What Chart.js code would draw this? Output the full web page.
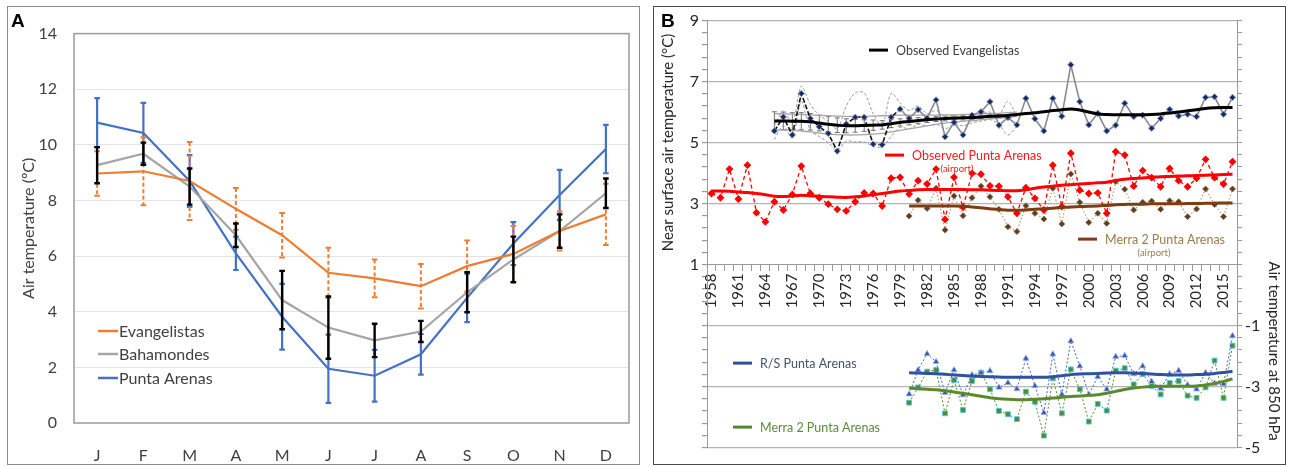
<!DOCTYPE html>
<html>
<head>
<meta charset="utf-8">
<title>Air temperature – Magallanes stations</title>
<script src="https://cdn.jsdelivr.net/npm/chart.js@4.4.1/dist/chart.umd.min.js"></script>
<style>
  html, body { margin: 0; padding: 0; background: #fff; }
  body { position: relative; width: 1290px; height: 467px; overflow: hidden; }
  .frame { position: absolute; box-sizing: border-box; }
  #frameA { left: 7px; top: 6px; width: 633px; height: 459px; border: 1.5px solid #8c8c8c; }
  #frameB { left: 653px; top: 6px; width: 633px; height: 459px; border: 1.5px solid #4a4a4a; }
  canvas { position: absolute; }
  #chartA { left: 8px; top: 7px; }
  #chartB { left: 655px; top: 8px; }
</style>
</head>
<body>
<div class="frame" id="frameA"></div>
<div class="frame" id="frameB"></div>
<canvas id="chartA" width="631" height="457"></canvas>
<canvas id="chartB" width="630" height="456"></canvas>
<script>
const FONT = 'Lato, "Open Sans", sans-serif';

// ---------- Panel A: monthly means with standard deviations ----------
const months = ['J', 'F', 'M', 'A', 'M', 'J', 'J', 'A', 'S', 'O', 'N', 'D'];
const evangelistasMean = [8.97, 9.05, 8.7, 7.7, 6.75, 5.4, 5.2, 4.92, 5.64, 6.08, 6.9, 7.5];
const evangelistasSd   = [0.8, 1.22, 1.4, 0.75, 0.8, 0.9, 0.68, 0.8, 0.92, 1.0, 0.7, 1.1];
const bahamondesMean   = [9.27, 9.68, 8.5, 6.75, 4.42, 3.43, 2.97, 3.29, 4.7, 5.88, 6.9, 8.26];
const bahamondesSd     = [0.65, 0.4, 0.65, 0.42, 1.05, 1.12, 0.6, 0.38, 0.72, 0.82, 0.6, 0.53];
const puntaArenasMean  = [10.8, 10.43, 8.7, 6.1, 3.82, 1.95, 1.7, 2.47, 4.5, 6.45, 8.2, 9.85];
const puntaArenasSd    = [0.88, 1.08, 0.93, 0.6, 1.18, 1.23, 0.93, 0.73, 0.87, 0.77, 0.9, 0.87];
const monthlyTicks = [0, 2, 4, 6, 8, 10, 12, 14];

// ---------- Panel B: annual series ----------
const years = [];
for (let yr = 1958; yr <= 2016; yr++) years.push(String(yr));
const yearTickLabels = ['1958', '1961', '1964', '1967', '1970', '1973', '1976', '1979', '1982', '1985',
  '1988', '1991', '1994', '1997', '2000', '2003', '2006', '2009', '2012', '2015'];
const surfaceTickLabels = [1, 3, 5, 7, 9];
const upperAirTickLabels = [-1, -3, -5];

// Observed Evangelistas, 1965-2016
const evAnnual = [5.38, 5.84, 5.25, 6.61, 5.79, 5.52, 5.30, 4.72, 5.61, 5.83,
  5.83, 4.95, 4.93, 5.83, 6.10, 5.79, 6.08, 5.80, 6.40, 5.19,
  5.66, 5.25, 5.90, 6.01, 6.34, 5.57, 5.82, 5.58, 6.45, 5.78,
  5.38, 6.45, 5.86, 7.55, 6.34, 5.58, 5.96, 5.38, 5.57, 6.29,
  5.85, 5.90, 5.47, 5.79, 6.09, 5.87, 5.93, 5.85, 6.48, 6.50,
  5.93, 6.48];
const evTrend = [5.71, 5.71, 5.70, 5.70, 5.68, 5.64, 5.60, 5.57, 5.55, 5.55,
  5.56, 5.57, 5.58, 5.62, 5.66, 5.69, 5.72, 5.75, 5.77, 5.79,
  5.80, 5.81, 5.82, 5.84, 5.86, 5.87, 5.89, 5.92, 5.95, 5.98,
  6.01, 6.05, 6.08, 6.10, 6.07, 6.00, 5.94, 5.92, 5.91, 5.91,
  5.91, 5.91, 5.92, 5.94, 5.97, 6.00, 6.04, 6.08, 6.12, 6.14,
  6.15, 6.15];
// uncertainty of the Evangelistas trend, 1965-1990
const evTrendErr = [0.30, 0.29, 0.28, 0.28, 0.27, 0.26, 0.25, 0.24, 0.23, 0.21,
  0.19, 0.17, 0.14, 0.13, 0.12, 0.11, 0.10, 0.09, 0.08, 0.08,
  0.07, 0.07, 0.06, 0.06, 0.05, 0.05];
// envelope and range of the reconstructed Evangelistas record, 1965-1992
const evEnvHigh = [5.95, 5.94, 5.93, 5.92, 5.91, 5.89, 5.88, 5.87, 5.86, 5.86,
  5.86, 5.87, 5.88, 5.89, 5.90, 5.90, 5.90, 5.90, 5.90, 5.91,
  5.91, 5.92, 5.93, 5.94, 5.95, 5.96, 5.98, 6.00];
const evEnvLow = [5.42, 5.41, 5.40, 5.38, 5.35, 5.31, 5.28, 5.26, 5.25, 5.25,
  5.26, 5.28, 5.30, 5.35, 5.40, 5.45, 5.50, 5.55, 5.60, 5.64,
  5.67, 5.70, 5.72, 5.75, 5.78, 5.80, 5.83, 5.86];
const evRangeHigh = [5.55, 6.05, 5.65, 6.85, 6.25, 5.90, 5.70, 5.45, 6.20, 6.63,
  6.63, 5.95, 5.55, 6.62, 6.30, 6.05, 6.20, 5.95, 6.05, 5.85,
  5.90, 5.80, 5.90, 5.95, 6.00, 5.90, 6.35, 5.85];
const evRangeLow = [5.10, 5.55, 5.15, 6.35, 5.40, 5.20, 5.00, 4.75, 5.05, 5.02,
  5.02, 4.88, 4.86, 5.20, 5.50, 5.45, 5.60, 5.55, 5.60, 5.45,
  5.60, 5.55, 5.65, 5.70, 5.75, 5.60, 5.25, 5.55];

// Observed Punta Arenas (airport), 1958-2016
const paAnnual = [3.33, 3.19, 4.13, 3.15, 4.26, 2.70, 2.40, 3.06, 2.79, 3.30,
  4.23, 3.33, 3.19, 2.98, 2.81, 2.76, 3.06, 3.35, 3.33, 2.92,
  3.83, 3.86, 3.31, 3.75, 3.64, 4.13, 2.48, 3.86, 2.88, 3.99,
  3.96, 3.58, 3.57, 3.22, 2.68, 3.52, 3.17, 2.79, 4.26, 2.90,
  4.65, 3.44, 3.33, 3.35, 2.68, 4.70, 4.59, 3.57, 4.08, 3.85,
  3.55, 4.15, 3.75, 3.55, 3.83, 4.45, 3.85, 3.64, 4.37];
const paTrend = [3.41, 3.41, 3.40, 3.38, 3.36, 3.33, 3.29, 3.24, 3.23, 3.25,
  3.27, 3.26, 3.24, 3.22, 3.21, 3.20, 3.22, 3.25, 3.29, 3.33,
  3.37, 3.41, 3.43, 3.45, 3.46, 3.46, 3.46, 3.46, 3.46, 3.45,
  3.45, 3.44, 3.43, 3.42, 3.42, 3.45, 3.50, 3.54, 3.57, 3.60,
  3.62, 3.64, 3.66, 3.68, 3.70, 3.76, 3.80, 3.82, 3.84, 3.86,
  3.88, 3.89, 3.90, 3.91, 3.92, 3.93, 3.94, 3.95, 3.96];

// MERRA-2 at Punta Arenas airport, 1980-2016
const merraSfcAnnual = [2.59, 3.11, 2.84, 3.50, 2.13, 3.25, 2.60, 3.19, 3.57, 3.22,
  2.81, 2.24, 2.08, 2.93, 2.68, 2.49, 3.50, 2.33, 3.97, 3.04,
  2.38, 2.68, 2.35, 3.72, 3.47, 2.79, 3.04, 3.08, 2.81, 3.09,
  3.06, 2.57, 2.82, 3.48, 2.97, 2.57, 3.48];
const merraSfcTrend = [2.92, 2.92, 2.92, 2.92, 2.92, 2.92, 2.91, 2.89, 2.86, 2.83,
  2.80, 2.78, 2.78, 2.79, 2.81, 2.83, 2.85, 2.87, 2.89, 2.90,
  2.91, 2.92, 2.94, 2.96, 2.97, 2.98, 2.98, 2.99, 2.99, 2.99,
  2.99, 3.00, 3.00, 3.01, 3.01, 3.02, 3.02];

// 850 hPa: radiosonde and MERRA-2 at Punta Arenas, 1980-2016
const rsAnnual = [-3.25, -2.46, -1.93, -2.19, -3.20, -2.46, -3.28, -2.62, -2.55, -2.49,
  -3.03, -2.88, -3.08, -2.08, -2.98, -3.86, -1.94, -3.26, -1.51, -2.33,
  -3.26, -2.68, -3.09, -2.02, -1.99, -2.59, -2.33, -2.84, -3.06, -2.59,
  -2.48, -2.95, -3.09, -2.55, -2.90, -2.92, -1.34];
const rsTrend = [-2.55, -2.56, -2.57, -2.58, -2.60, -2.62, -2.64, -2.66, -2.67, -2.68,
  -2.69, -2.70, -2.70, -2.70, -2.70, -2.70, -2.68, -2.65, -2.61, -2.59,
  -2.58, -2.57, -2.56, -2.55, -2.55, -2.56, -2.57, -2.59, -2.61, -2.62,
  -2.62, -2.62, -2.61, -2.60, -2.57, -2.54, -2.50];
const merra850Annual = [-3.53, -3.03, -2.51, -2.46, -3.88, -2.79, -3.77, -2.82, -2.55, -3.09,
  -3.80, -3.91, -4.07, -3.17, -3.50, -4.61, -2.73, -3.88, -2.44, -3.09,
  -4.15, -3.57, -3.79, -2.48, -2.40, -2.93, -2.59, -2.98, -3.26, -2.88,
  -2.82, -3.30, -3.37, -3.03, -2.15, -3.37, -1.66];
const merra850Trend = [-3.05, -3.07, -3.09, -3.11, -3.14, -3.18, -3.22, -3.27, -3.32, -3.37,
  -3.40, -3.42, -3.43, -3.43, -3.42, -3.40, -3.38, -3.35, -3.33, -3.31,
  -3.29, -3.27, -3.22, -3.16, -3.10, -3.05, -3.02, -3.00, -2.99, -2.99,
  -2.99, -2.99, -2.98, -2.95, -2.90, -2.83, -2.75];

// pairs a yearly value list with its category labels
const byYear = (startYear, values) => values.map((v, i) => ({ x: String(startYear + i), y: v }));

// ---------- Panel A chart ----------
const panelADecor = {
  id: 'panelADecor',
  afterDatasetsDraw(chart) {
    const { ctx, chartArea: a, scales: { y } } = chart;
    // plot-area frame
    ctx.save();
    ctx.strokeStyle = '#9a9a9a';
    ctx.lineWidth = 1.5;
    ctx.strokeRect(a.left, a.top, a.right - a.left, a.bottom - a.top);
    ctx.restore();
    // error bars, drawn in a fixed stacking order
    const drawOrder = chart.data.datasets.map((d, i) => i)
      .sort((p, q) => chart.data.datasets[p].errorOrder - chart.data.datasets[q].errorOrder);
    drawOrder.forEach(i => {
      const ds = chart.data.datasets[i];
      const meta = chart.getDatasetMeta(i);
      ctx.save();
      ctx.strokeStyle = ds.errorColor;
      ctx.lineWidth = ds.errorWidth;
      meta.data.forEach((pt, k) => {
        const v = ds.data[k], e = ds.errors[k];
        const yHi = y.getPixelForValue(v + e), yLo = y.getPixelForValue(v - e);
        ctx.setLineDash(ds.errorDash);
        ctx.beginPath(); ctx.moveTo(pt.x, yHi); ctx.lineTo(pt.x, yLo); ctx.stroke();
        ctx.setLineDash([]);
        ctx.beginPath();
        ctx.moveTo(pt.x - 2.8, yHi); ctx.lineTo(pt.x + 2.8, yHi);
        ctx.moveTo(pt.x - 2.8, yLo); ctx.lineTo(pt.x + 2.8, yLo);
        ctx.stroke();
      });
      ctx.restore();
    });
  },
  afterDraw(chart) {
    const { ctx, chartArea: a } = chart;
    ctx.save();
    // legend inside the plot
    const rows = [92, 69, 45];
    chart.data.datasets.forEach((ds, i) => {
      const yy = a.bottom - rows[i];
      ctx.strokeStyle = ds.borderColor;
      ctx.lineWidth = 2.5;
      ctx.beginPath(); ctx.moveTo(a.left + 24, yy); ctx.lineTo(a.left + 44, yy); ctx.stroke();
      ctx.fillStyle = '#404040';
      ctx.font = '16px ' + FONT;
      ctx.textBaseline = 'middle';
      ctx.textAlign = 'left';
      ctx.fillText(ds.label, a.left + 45, yy + 1);
    });
    // panel tag
    ctx.fillStyle = '#000';
    ctx.font = 'bold 19px "Liberation Sans", Arial, sans-serif';
    ctx.textBaseline = 'alphabetic';
    ctx.fillText('A', 3, 19.5);
    ctx.restore();
  }
};

new Chart(document.getElementById('chartA'), {
  type: 'line',
  data: {
    labels: months,
    datasets: [
      { label: 'Evangelistas', data: evangelistasMean, errors: evangelistasSd,
        borderColor: '#ed7d31', errorColor: '#ed7d31', errorDash: [4, 2.5], errorWidth: 2, errorOrder: 1 },
      { label: 'Bahamondes', data: bahamondesMean, errors: bahamondesSd,
        borderColor: '#a5a5a5', errorColor: '#000000', errorDash: [], errorWidth: 2.4, errorOrder: 2 },
      { label: 'Punta Arenas', data: puntaArenasMean, errors: puntaArenasSd,
        borderColor: '#4472c4', errorColor: '#4472c4', errorDash: [], errorWidth: 2.2, errorOrder: 0 }
    ]
  },
  options: {
    responsive: false,
    animation: false,
    devicePixelRatio: 1,
    layout: { padding: { top: 20, right: 10, left: 0, bottom: 0 } },
    elements: { line: { borderWidth: 2.2, tension: 0, fill: false }, point: { radius: 0 } },
    plugins: { legend: { display: false }, tooltip: { enabled: false } },
    scales: {
      x: {
        offset: true,
        grid: { display: false },
        border: { display: false },
        ticks: { padding: 15, color: '#404040', font: { family: FONT, size: 16 } },
        afterFit: s => { s.height = 41; }
      },
      y: {
        min: 0, max: 14,
        afterBuildTicks: s => { s.ticks = monthlyTicks.map(v => ({ value: v })); },
        ticks: { padding: 17, color: '#404040', font: { family: FONT, size: 16 } },
        grid: {
          drawTicks: false,
          color: c => (c.tick.value === 0 || c.tick.value === 14) ? 'rgba(0,0,0,0)' : '#e4e4e4'
        },
        border: { display: false },
        title: { display: true, text: 'Air temperature (ºC)', color: '#404040',
          font: { family: FONT, size: 16 }, padding: { top: 11, bottom: 0 } },
        afterFit: s => { s.width = 66; }
      }
    }
  },
  plugins: [panelADecor]
});

// ---------- Panel B chart ----------
const isLabelled = (v, list) => list.some(t => Math.abs(t - v) < 1e-6);
const majorLines = [9, 7, 5, 3, -1, -3, -5];

const panelBDecor = {
  id: 'panelBDecor',
  beforeDatasetsDraw(chart) {
    // error bars on the Evangelistas trend
    const { ctx, scales: { x, y } } = chart;
    ctx.save();
    ctx.strokeStyle = '#707070';
    ctx.lineWidth = 1;
    evTrendErr.forEach((e, i) => {
      const idx = years.indexOf(String(1965 + i));
      const px = x.getPixelForValue(idx);
      const v = evTrend[i];
      const yHi = y.getPixelForValue(v + e), yLo = y.getPixelForValue(v - e);
      ctx.beginPath();
      ctx.moveTo(px, yHi); ctx.lineTo(px, yLo);
      ctx.moveTo(px - 2.5, yHi); ctx.lineTo(px + 2.5, yHi);
      ctx.moveTo(px - 2.5, yLo); ctx.lineTo(px + 2.5, yLo);
      ctx.stroke();
    });
    ctx.restore();
  },
  afterDraw(chart) {
    const { ctx, chartArea: a, scales: { y } } = chart;
    ctx.save();
    const entries = [
      { text: 'Observed Evangelistas', line: '#000000', color: '#404040', dx: 162, dy: 29.5 },
      { text: 'Observed Punta Arenas', line: '#ff0000', color: '#ff1a1a', dx: 178, dy: 134.5, note: '(airport)', noteDx: 250 },
      { text: 'Merra 2 Punta Arenas', line: '#7f3c10', color: '#9c7b4c', dx: 371, dy: 218.5, note: '(airport)', noteDx: 447 },
      { text: 'R/S Punta Arenas', line: '#2f52a0', color: '#44546a', dx: 26, dy: 342.5 },
      { text: 'Merra 2 Punta Arenas', line: '#548a2e', color: '#5a8c3c', dx: 26, dy: 406.5 }
    ];
    entries.forEach(en => {
      const yy = a.top + en.dy;
      ctx.strokeStyle = en.line;
      ctx.lineWidth = 3;
      ctx.beginPath(); ctx.moveTo(a.left + en.dx, yy); ctx.lineTo(a.left + en.dx + 19, yy); ctx.stroke();
      ctx.fillStyle = en.color;
      ctx.font = '12.5px ' + FONT;
      ctx.textAlign = 'left';
      ctx.textBaseline = 'middle';
      ctx.fillText(en.text, a.left + en.dx + 27, yy + 1);
      if (en.note) {
        ctx.font = '9.5px ' + FONT;
        ctx.textAlign = 'center';
        ctx.fillText(en.note, a.left + en.noteDx, yy + 14);
      }
    });
    // axis titles
    ctx.fillStyle = '#262626';
    ctx.font = '15px ' + FONT;
    ctx.textAlign = 'center';
    ctx.textBaseline = 'middle';
    ctx.save();
    ctx.translate(13, y.getPixelForValue(5));
    ctx.rotate(-Math.PI / 2);
    ctx.fillText('Near surface air temperature (°C)', 0, 0);
    ctx.restore();
    ctx.save();
    ctx.translate(619, (y.getPixelForValue(1) + y.getPixelForValue(-5)) / 2 - 5);
    ctx.rotate(Math.PI / 2);
    ctx.fillText('Air temperature at 850 hPa', 0, 0);
    ctx.restore();
    // panel tag
    ctx.fillStyle = '#000';
    ctx.font = 'bold 19px "Liberation Sans", Arial, sans-serif';
    ctx.textAlign = 'left';
    ctx.textBaseline = 'alphabetic';
    ctx.fillText('B', 6, 18.5);
    ctx.restore();
  }
};

const trendLine = (label, data, color, order) => ({
  label, data, borderColor: color, borderWidth: 3, pointRadius: 0,
  tension: 0.4, cubicInterpolationMode: 'monotone', order
});

const verticalAxis = (position, labelled, extra) => Object.assign({
  position,
  min: -5, max: 9,
  ticks: {
    stepSize: 0.4, autoSkip: false, color: '#262626',
    font: { family: FONT, size: 16 },
    callback: v => (isLabelled(v, labelled) ? String(Math.round(v)) : '')
  },
  border: { display: true, color: '#9a9a9a', width: 1 }
}, extra);

new Chart(document.getElementById('chartB'), {
  type: 'line',
  data: {
    labels: years,
    datasets: [
      trendLine('Observed Evangelistas trend', byYear(1965, evTrend), '#000000', 1),
      trendLine('Observed Punta Arenas trend', byYear(1958, paTrend), '#ff0000', 2),
      trendLine('Merra 2 Punta Arenas trend', byYear(1980, merraSfcTrend), '#7f3c10', 3),
      trendLine('R/S Punta Arenas trend', byYear(1980, rsTrend), '#2f52a0', 4),
      trendLine('Merra 2 Punta Arenas 850 hPa trend', byYear(1980, merra850Trend), '#5a8a2c', 5),
      {
        label: 'Observed Evangelistas', data: byYear(1965, evAnnual), order: 10,
        borderWidth: 1.6, pointStyle: 'rectRot', pointRadius: 3.2,
        pointBackgroundColor: '#1b2a5e', pointBorderColor: '#8aa2d2', pointBorderWidth: 1,
        segment: {
          borderColor: c => (c.p0DataIndex < 14 ? '#111111' : '#8a8a8a'),
          borderDash: c => (c.p0DataIndex < 14 ? [5, 2] : [])
        }
      },
      {
        label: 'Observed Punta Arenas', data: byYear(1958, paAnnual), order: 11,
        borderColor: '#ff0000', borderWidth: 1.3, borderDash: [4, 3],
        pointStyle: 'rectRot', pointRadius: 3, pointBackgroundColor: '#ff0000', pointBorderColor: '#ff0000'
      },
      {
        label: 'Merra 2 Punta Arenas', data: byYear(1980, merraSfcAnnual), order: 12,
        borderColor: '#b3a078', borderWidth: 1.2, borderDash: [1.5, 2],
        pointStyle: 'rectRot', pointRadius: 3, pointBackgroundColor: '#5c3d22', pointBorderColor: '#8a6a4a', pointBorderWidth: 0.8
      },
      {
        label: 'R/S Punta Arenas', data: byYear(1980, rsAnnual), order: 13,
        borderColor: '#3d63c2', borderWidth: 1, borderDash: [2, 2],
        pointStyle: 'triangle', pointRadius: 3.6, pointBackgroundColor: '#3556b3', pointBorderColor: '#a9bbe3', pointBorderWidth: 0.8
      },
      {
        label: 'Merra 2 Punta Arenas 850 hPa', data: byYear(1980, merra850Annual), order: 14,
        borderColor: '#4f8a2e', borderWidth: 1, borderDash: [2, 2],
        pointStyle: 'rect', pointRadius: 3.4, pointBackgroundColor: '#4e8a2e', pointBorderColor: '#55c4e0', pointBorderWidth: 1
      },
      { label: 'Evangelistas envelope high', data: byYear(1965, evEnvHigh), order: 20,
        borderColor: '#a6a6a6', borderWidth: 1.3, pointRadius: 0, tension: 0.3 },
      { label: 'Evangelistas envelope low', data: byYear(1965, evEnvLow), order: 21,
        borderColor: '#a6a6a6', borderWidth: 1.3, pointRadius: 0, tension: 0.3 },
      { label: 'Evangelistas range high', data: byYear(1965, evRangeHigh), order: 22,
        borderColor: '#9a9a9a', borderWidth: 1, borderDash: [3, 2], pointRadius: 0, tension: 0.3 },
      { label: 'Evangelistas range low', data: byYear(1965, evRangeLow), order: 23,
        borderColor: '#9a9a9a', borderWidth: 1, borderDash: [3, 2], pointRadius: 0, tension: 0.3 }
    ]
  },
  options: {
    responsive: false,
    animation: false,
    devicePixelRatio: 1,
    layout: { padding: { top: 12.5, bottom: 16.5, left: 0, right: 0 } },
    plugins: { legend: { display: false }, tooltip: { enabled: false } },
    scales: {
      x: {
        type: 'category',
        offset: true,
        position: { y: 1 },
        grid: { drawOnChartArea: false, drawTicks: true, tickLength: 6, tickColor: '#9a9a9a', offset: true },
        border: { display: true, color: '#9a9a9a' },
        ticks: {
          autoSkip: false, minRotation: 90, maxRotation: 90, padding: 3,
          color: '#262626', font: { family: FONT, size: 15 },
          callback: (v, i) => (yearTickLabels.includes(years[i]) ? years[i] : '')
        }
      },
      y: verticalAxis('left', surfaceTickLabels, {
        grid: {
          color: c => (isLabelled(c.tick.value, majorLines) ? '#b4b4b4' : 'rgba(0,0,0,0)'),
          tickColor: '#9a9a9a', tickLength: 5, lineWidth: 1.2
        },
        afterFit: s => { s.width = 52; }
      }),
      y2: verticalAxis('right', upperAirTickLabels, {
        grid: { drawOnChartArea: false, tickColor: '#9a9a9a', tickLength: 5 },
        afterFit: s => { s.width = 48; }
      })
    }
  },
  plugins: [panelBDecor]
});
</script>
</body>
</html>
